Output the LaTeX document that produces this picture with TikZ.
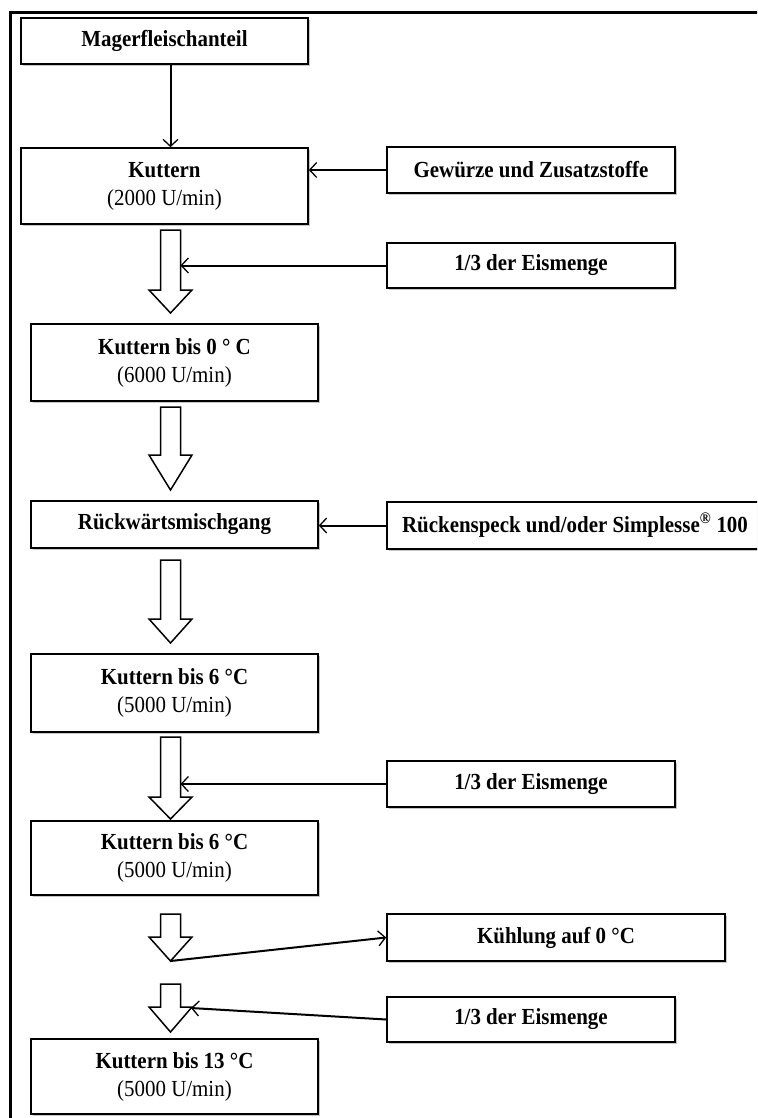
\documentclass[tikz,border=0pt]{standalone}
\usepackage{fontspec}
\setmainfont{Liberation Serif}[FakeStretch=0.91]
\usetikzlibrary{arrows.meta,shadows}
\tikzset{
 box/.style={draw, line width=1.6pt, fill=white, align=center, inner sep=0pt,
   font=\fontsize{23}{28}\selectfont,
   drop shadow={shadow xshift=1.8pt, shadow yshift=-1.8pt, fill=black!50, opacity=0.45}},
 conn/.style={line width=2pt, -{Straight Barb[length=7pt,width=15pt,line width=1.3pt]}},
 blk/.style={draw, line width=1.5pt, fill=white, line join=miter},
 frame/.style={line width=2.5pt},
}
\newcommand\hollowarrow[4]{% x, top, headstart, tip
 \draw[blk] ({#1-10},#2) -- ({#1+10},#2) -- ({#1+10},#3) -- ({#1+21.5},#3) -- (#1,#4)
   -- ({#1-21.5},#3) -- ({#1-10},#3) -- cycle;}
\begin{document}
\begin{tikzpicture}[x=1pt,y=-1pt]
\useasboundingbox (0,0) rectangle (757,1118);
\clip (0,0) rectangle (757,1118);
\draw[frame] (790,12.5) -- (10.5,12.5) -- (10.5,1140);

% left column
\node[box, minimum width=287pt, minimum height=46pt] (mager) at (164.5,41) {\textbf{Magerfleischanteil}};
\node[box, minimum width=287pt, minimum height=76pt] (kut1) at (164.5,186) {\textbf{Kuttern}\\(2000 U/min)};
\node[box, minimum width=287pt, minimum height=77pt] (kut0) at (174.5,362.5) {\textbf{Kuttern bis 0 ° C}\\(6000 U/min)};
\node[box, minimum width=287pt, minimum height=47pt] (rueck) at (174.5,524.5) {\textbf{Rückwärtsmischgang}};
\node[box, minimum width=287pt, minimum height=78pt] (kut6a) at (174.5,693) {\textbf{Kuttern bis 6 °C}\\(5000 U/min)};
\node[box, minimum width=287pt, minimum height=74pt] (kut6b) at (174.5,858) {\textbf{Kuttern bis 6 °C}\\(5000 U/min)};
\node[box, minimum width=287pt, minimum height=75pt] (kut13) at (174.5,1076.5) {\textbf{Kuttern bis 13 °C}\\(5000 U/min)};

% right column
\node[box, minimum width=288pt, minimum height=46pt] (gew) at (531,170) {\textbf{Gewürze und Zusatzstoffe}};
\node[box, minimum width=288pt, minimum height=45pt] (eis1) at (531,265.5) {\textbf{1/3 der Eismenge}};
\node[box, minimum width=376pt, minimum height=47pt] (speck) at (575,525.5) {\textbf{Rückenspeck und/oder Simplesse\textsuperscript{®} 100}};
\node[box, minimum width=288pt, minimum height=46pt] (eis2) at (531,784) {\textbf{1/3 der Eismenge}};
\node[box, minimum width=338pt, minimum height=47pt] (kuehl) at (556,937.5) {\textbf{Kühlung auf 0 °C}};
\node[box, minimum width=288pt, minimum height=45pt] (eis3) at (531,1019.5) {\textbf{1/3 der Eismenge}};

% hollow arrows
\hollowarrow{170.5}{230}{290}{313}
\hollowarrow{170.5}{407}{455}{490}
\hollowarrow{170.5}{560}{619}{643}
\hollowarrow{170.5}{737}{797}{819}
\hollowarrow{170.5}{914}{937}{961}
\hollowarrow{170.5}{984}{1007}{1032}

% reference coordinates on the hollow arrows
\coordinate (cx) at (170.5,0);
\coordinate (shaftr) at (180.5,0);
\coordinate (a5tip) at (170.5,961);
\coordinate (a6head) at (191,1008);

% connectors
\draw[conn] (mager.south -| cx) -- (kut1.north -| cx);
\draw[conn] (gew.west) -- (kut1.east |- gew.west);
\draw[conn] (eis1.west) -- (eis1.west -| shaftr);
\draw[conn] (speck.west) -- (rueck.east |- speck.west);
\draw[conn] (eis2.west) -- (eis2.west -| shaftr);
\draw[conn] (a5tip) -- (kuehl.west);
\draw[conn] (eis3.west) -- (a6head);
\end{tikzpicture}
\end{document}
